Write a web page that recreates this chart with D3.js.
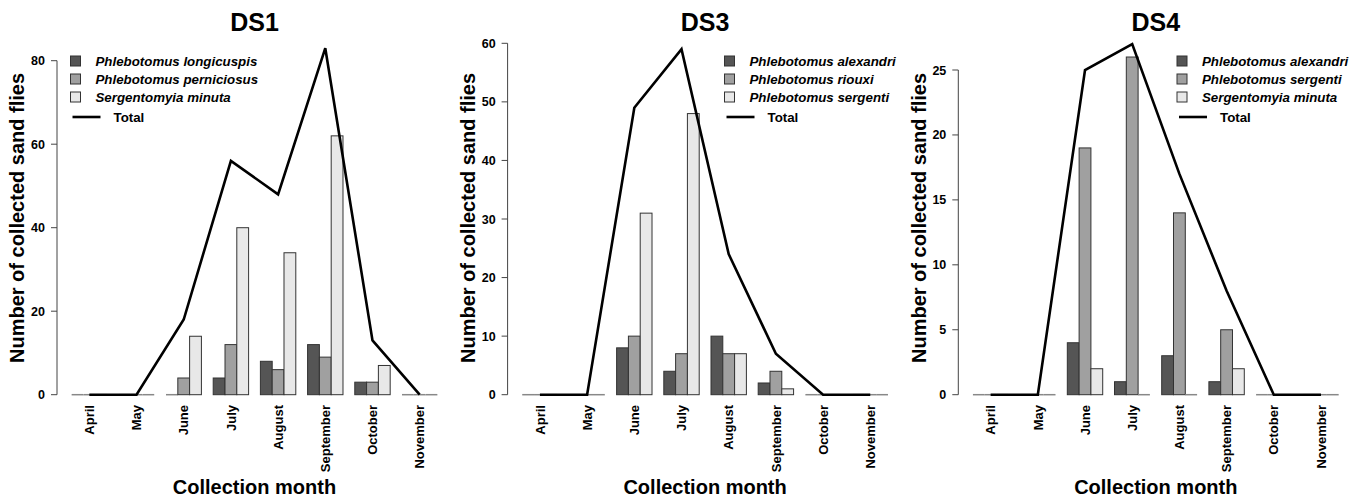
<!DOCTYPE html>
<html>
<head>
<meta charset="utf-8">
<script src="https://cdn.jsdelivr.net/npm/d3@7"></script>
<style>
    body { margin: 0; background: #fff; }
    svg { display: block; font-family: "Liberation Sans", Arial, sans-serif; }
    .tick_label { font-size: 12.5px; font-weight: bold; }
    .month_label { font-size: 13px; font-weight: bold; }
    .axis_title { font-size: 20px; font-weight: bold; }
    .panel_title { font-size: 25px; font-weight: bold; }
    .legend_text { font-size: 13.3px; font-weight: bold; font-style: italic; }
    .legend_total { font-size: 13.3px; font-weight: bold; }
</style>
</head>
<body>
<svg id="chart" width="1363" height="501"></svg>
<script>
// months on the x axis
let months = ["April", "May", "June", "July", "August", "September", "October", "November"];

// DS1
let ds1Species = ["Phlebotomus longicuspis", "Phlebotomus perniciosus", "Sergentomyia minuta"];
let ds1Longicuspis = [0, 0, 0, 4, 8, 12, 3, 0];
let ds1Perniciosus = [0, 0, 4, 12, 6, 9, 3, 0];
let ds1Minuta = [0, 0, 14, 40, 34, 62, 7, 0];
let ds1Total = [0, 0, 18, 56, 48, 83, 13, 0];
let ds1Ticks = [0, 20, 40, 60, 80];

// DS3
let ds3Species = ["Phlebotomus alexandri", "Phlebotomus riouxi", "Phlebotomus sergenti"];
let ds3Alexandri = [0, 0, 8, 4, 10, 2, 0, 0];
let ds3Riouxi = [0, 0, 10, 7, 7, 4, 0, 0];
let ds3Sergenti = [0, 0, 31, 48, 7, 1, 0, 0];
let ds3Total = [0, 0, 49, 59, 24, 7, 0, 0];
let ds3Ticks = [0, 10, 20, 30, 40, 50, 60];

// DS4
let ds4Species = ["Phlebotomus alexandri", "Phlebotomus sergenti", "Sergentomyia minuta"];
let ds4Alexandri = [0, 0, 4, 1, 3, 1, 0, 0];
let ds4Sergenti = [0, 0, 19, 26, 14, 5, 0, 0];
let ds4Minuta = [0, 0, 2, 0, 0, 2, 0, 0];
let ds4Total = [0, 0, 25, 27, 17, 8, 0, 0];
let ds4Ticks = [0, 5, 10, 15, 20, 25];

let fills = ["#555555", "#a0a0a0", "#e8e8e8"];

let svg = d3.select("#chart");

let panels = [
    {title: "DS1", species: ds1Species, series: [ds1Longicuspis, ds1Perniciosus, ds1Minuta], total: ds1Total, ticks: ds1Ticks,
        axisX: 57, topTickY: 60.7, legendX: 70.5},
    {title: "DS3", species: ds3Species, series: [ds3Alexandri, ds3Riouxi, ds3Sergenti], total: ds3Total, ticks: ds3Ticks,
        axisX: 507.6, topTickY: 43.3, legendX: 724.5},
    {title: "DS4", species: ds4Species, series: [ds4Alexandri, ds4Sergenti, ds4Minuta], total: ds4Total, ticks: ds4Ticks,
        axisX: 958.3, topTickY: 70, legendX: 1177}
];

let zeroY = 394.7,
    plotWidth = 395,
    unit = plotWidth / 33.48;

function drawPanel(p) {
    let g = svg.append("g");

    let xScale = d3.scaleBand()
        .domain(months)
        .range([p.axisX + 0.74 * unit, p.axisX + 32.74 * unit])
        .paddingInner(0.25)
        .paddingOuter(0.125);

    let inner = d3.scaleBand()
        .domain([0, 1, 2])
        .range([0, xScale.bandwidth()]);

    let yScale = d3.scaleLinear()
        .domain([0, p.ticks[p.ticks.length - 1]])
        .range([zeroY, p.topTickY]);

    // bars
    p.series.forEach((vals, si) => {
        let sg = g.append("g");
        sg.selectAll("rect")
            .data(vals.map((v, i) => ({m: months[i], v: v})).filter(d => d.v > 0))
            .enter()
            .append("rect")
            .attr("x", d => xScale(d.m) + inner(si))
            .attr("y", d => yScale(d.v))
            .attr("width", inner.bandwidth())
            .attr("height", d => yScale(0) - yScale(d.v))
            .attr("fill", fills[si])
            .attr("stroke", "#333")
            .attr("stroke-width", 1);

        // zero height bars show as a flat line
        sg.selectAll("line")
            .data(vals.map((v, i) => ({m: months[i], v: v})).filter(d => d.v === 0))
            .enter()
            .append("line")
            .attr("x1", d => xScale(d.m) + inner(si))
            .attr("x2", d => xScale(d.m) + inner(si) + inner.bandwidth())
            .attr("y1", yScale(0))
            .attr("y2", yScale(0))
            .attr("stroke", "#888")
            .attr("stroke-width", 1.5);
    });

    // total line
    let line = d3.line()
        .x(d => xScale(d.m) + xScale.bandwidth() / 2)
        .y(d => yScale(d.v));

    g.append("path")
        .attr("d", line(p.total.map((v, i) => ({m: months[i], v: v}))))
        .attr("fill", "none")
        .attr("stroke", "#000")
        .attr("stroke-width", 2.6)
        .attr("stroke-linejoin", "miter");

    // y axis
    g.append("line")
        .attr("x1", p.axisX).attr("x2", p.axisX)
        .attr("y1", yScale(0)).attr("y2", yScale(p.ticks[p.ticks.length - 1]))
        .attr("stroke", "#444");

    g.append("g")
        .selectAll("line")
        .data(p.ticks)
        .enter()
        .append("line")
        .attr("x1", p.axisX - 6).attr("x2", p.axisX)
        .attr("y1", d => yScale(d)).attr("y2", d => yScale(d))
        .attr("stroke", "#444");

    g.append("g")
        .selectAll("text")
        .data(p.ticks)
        .enter()
        .append("text")
        .text(d => d)
        .attr("x", p.axisX - 12)
        .attr("y", d => yScale(d))
        .attr("dy", "0.36em")
        .attr("text-anchor", "end")
        .attr("class", "tick_label");

    // month labels
    g.append("g")
        .selectAll("text")
        .data(months)
        .enter()
        .append("text")
        .text(d => d)
        .attr("transform", d => "translate(" + (xScale(d) + xScale.bandwidth() / 2) + ",405) rotate(-90)")
        .attr("dy", "0.36em")
        .attr("text-anchor", "end")
        .attr("class", "month_label");

    let cx = p.axisX + plotWidth / 2;

    g.append("text")
        .text(p.title)
        .attr("x", cx)
        .attr("y", 31)
        .attr("text-anchor", "middle")
        .attr("class", "panel_title");

    g.append("text")
        .text("Collection month")
        .attr("x", cx)
        .attr("y", 493.5)
        .attr("text-anchor", "middle")
        .attr("class", "axis_title");

    g.append("text")
        .text("Number of collected sand flies")
        .attr("transform", "translate(" + (p.axisX - 40) + ",218) rotate(-90)")
        .attr("dy", "0.36em")
        .attr("text-anchor", "middle")
        .attr("class", "axis_title");

    // legend
    let rowY = [61, 79, 97];
    let leg = g.append("g");
    p.species.forEach((s, i) => {
        leg.append("rect")
            .attr("x", p.legendX)
            .attr("y", rowY[i] - 5)
            .attr("width", 10)
            .attr("height", 10)
            .attr("fill", fills[i])
            .attr("stroke", "#333");
        leg.append("text")
            .text(s)
            .attr("x", p.legendX + 25)
            .attr("y", rowY[i])
            .attr("dy", "0.36em")
            .attr("class", "legend_text");
    });
    leg.append("line")
        .attr("x1", p.legendX + 2).attr("x2", p.legendX + 30)
        .attr("y1", 117).attr("y2", 117)
        .attr("stroke", "#000")
        .attr("stroke-width", 2.6);
    leg.append("text")
        .text("Total")
        .attr("x", p.legendX + 43)
        .attr("y", 117)
        .attr("dy", "0.36em")
        .attr("class", "legend_total");
}

panels.forEach(drawPanel);
</script>
</body>
</html>
